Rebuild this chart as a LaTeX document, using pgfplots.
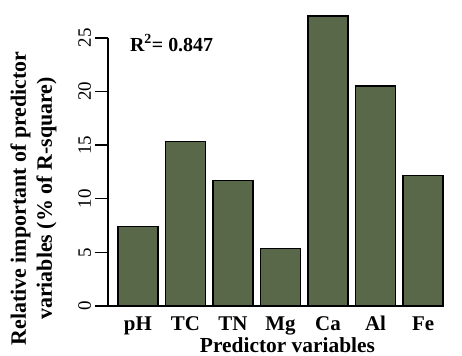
\documentclass[border=0pt]{standalone}
\usepackage{pgfplots}
\pgfplotsset{compat=1.18}
\usepackage{fontspec}
\setmainfont{Liberation Serif}
\definecolor{barg}{RGB}{88,104,72}
\begin{document}
\begin{tikzpicture}
\path[use as bounding box] (-108bp,-50bp) rectangle (354bp,306bp);
\begin{axis}[
  at={(0,0)}, anchor=south west,
  scale only axis,
  width=335bp, height=296bp,
  xmin=-0.63, xmax=6.42,
  ymin=0, ymax=27.6,
  clip=false,
  axis line style={draw=none},
  xtick={0,1,2,3,4,5,6},
  xticklabels={pH,TC,TN,Mg,Ca,Al,Fe},
  xtick style={draw=none},
  xtick pos=bottom,
  xticklabel style={font=\fontsize{21}{25}\selectfont\bfseries, anchor=base, yshift=-11bp},
  ytick={0,5,10,15,20,25},
  ytick pos=left,
  ytick style={line width=1.4bp, black},
  tick align=outside,
  major tick length=13bp,
  yticklabel style={font=\fontsize{19}{22}\selectfont, anchor=base, xshift=-4bp, rotate=90},
  /pgf/number format/assume math mode=true,
]
\addplot[ybar, bar width=40bp, fill=barg, draw=black, line width=1.3bp] coordinates {
  (0,7.40) (1,15.33) (2,11.70) (3,5.38) (4,27.05) (5,20.52) (6,12.15)
};
\draw[line width=1.4bp] (axis cs:-0.63,25) -- (axis cs:-0.63,0) -- (axis cs:6.42,0);
\node[anchor=west, font=\fontsize{20}{24}\selectfont\bfseries, inner sep=0pt] at (axis cs:-0.17,24.5) {R\textsuperscript{2}= 0.847};
\end{axis}
\node[rotate=90, anchor=base, font=\fontsize{22}{26}\selectfont\bfseries, inner sep=0pt] at (-82bp,107.5bp) {Relative important of predictor};
\node[rotate=90, anchor=base, font=\fontsize{22}{26}\selectfont\bfseries, inner sep=0pt] at (-56bp,107.5bp) {variables (\% of R-square)};
\node[anchor=base, font=\fontsize{21.5}{25}\selectfont\bfseries, inner sep=0pt] at (179.5bp,-46bp) {Predictor variables};
\end{tikzpicture}
\end{document}
